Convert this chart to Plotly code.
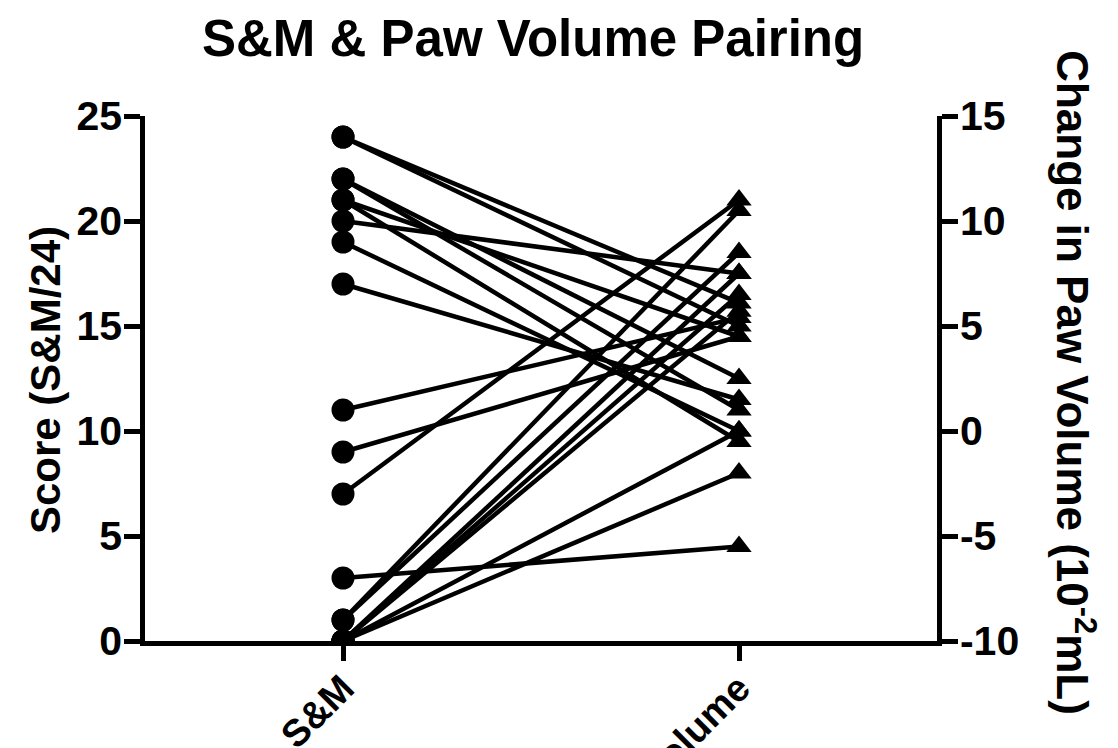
import plotly.graph_objects as go

# ---- data ----
categories = ["S&M", "Paw Volume"]
score_sm = [24, 24, 22, 22, 21, 21, 20, 19, 17, 11, 9, 7, 3, 1, 1, 0, 0, 0, 0, 0]
paw_volume = [6.1, 5.0, 2.5, 1.0, -0.5, 4.5, 7.5, 0.0, 1.5, 5.4, 4.5, 11.0, -5.5,
              10.5, 8.5, 7.5, 6.5, 5.7, 0.0, -2.0]
y_range = [0, 25]
y2_range = [-10, 15]
y_ticks = [0, 5, 10, 15, 20, 25]
y2_ticks = [-10, -5, 0, 5, 10, 15]
y_ticktext = ["0", "5", "10", "15", "20", "25"]
y2_ticktext = ["-10", "-5", "0", "5", "10", "15"]

FONT = "Liberation Sans, Arial, Helvetica, sans-serif"
BLACK = "#000000"

# the two y axes share the same pixel scale, shifted by this offset
offset = y2_range[0] - y_range[0]

xs_line, ys_line = [], []
for s, v in zip(score_sm, paw_volume):
    xs_line += [0, 1, None]
    ys_line += [s + offset, v, None]

fig = go.Figure()
fig.add_trace(go.Scatter(x=xs_line, y=ys_line, mode="lines", yaxis="y2",
                         line=dict(color=BLACK, width=4.5), hoverinfo="skip",
                         showlegend=False))
fig.add_trace(go.Scatter(x=[0] * len(score_sm), y=score_sm, mode="markers",
                         marker=dict(symbol="circle", size=23, color=BLACK),
                         showlegend=False, name="S&M"))
fig.add_trace(go.Scatter(x=[1] * len(paw_volume), y=paw_volume, mode="markers",
                         yaxis="y2",
                         marker=dict(symbol="triangle-up", size=22, color=BLACK),
                         showlegend=False, name="Paw Volume"))

tickfont = dict(family=FONT, size=41, color=BLACK, weight="bold")
axis_common = dict(showline=True, linewidth=4.5, linecolor=BLACK,
                   ticks="outside", tickwidth=4.5, tickcolor=BLACK,
                   showgrid=False, zeroline=False, automargin=False)

fig.update_layout(
    width=1118, height=748,
    margin=dict(l=145, r=181, t=116, b=107, autoexpand=False),
    paper_bgcolor="white", plot_bgcolor="white",
    showlegend=False,
    xaxis=dict(range=[-0.5, 1.5], tickmode="array", tickvals=[0, 1],
               ticktext=categories, tickangle=-45,
               tickfont=dict(family=FONT, size=38, color=BLACK, weight="bold"),
               ticklen=15, ticklabelstandoff=-10, **axis_common),
    yaxis=dict(range=y_range, tickmode="array", tickvals=y_ticks,
               ticktext=y_ticktext, tickfont=tickfont, ticklen=16,
               ticklabelstandoff=-6, **axis_common),
    yaxis2=dict(range=y2_range, tickmode="array", tickvals=y2_ticks,
                ticktext=y2_ticktext, overlaying="y", side="right",
                tickfont=tickfont, ticklen=16, ticklabelstandoff=-6,
                **axis_common),
    annotations=[
        dict(text="S&M & Paw Volume Pairing", xref="paper", yref="paper",
             x=0.49, y=(641 - 38) / 525, xanchor="center", yanchor="middle",
             showarrow=False, font=dict(family=FONT, size=51, color=BLACK, weight="bold")),
        dict(text="Score (S&M/24)", xref="paper", yref="paper",
             x=(45 - 145) / 792, y=0.497, xanchor="center", yanchor="middle",
             textangle=-90, showarrow=False,
             font=dict(family=FONT, size=42, color=BLACK, weight="bold")),
        dict(text="Change in Paw Volume (10<sup>-2</sup>mL)", xref="paper", yref="paper",
             x=(1076 - 145) / 792, y=0.493, xanchor="center", yanchor="middle",
             textangle=90, showarrow=False,
             font=dict(family=FONT, size=44, color=BLACK, weight="bold")),
    ],
)

fig.write_html("out.html")
